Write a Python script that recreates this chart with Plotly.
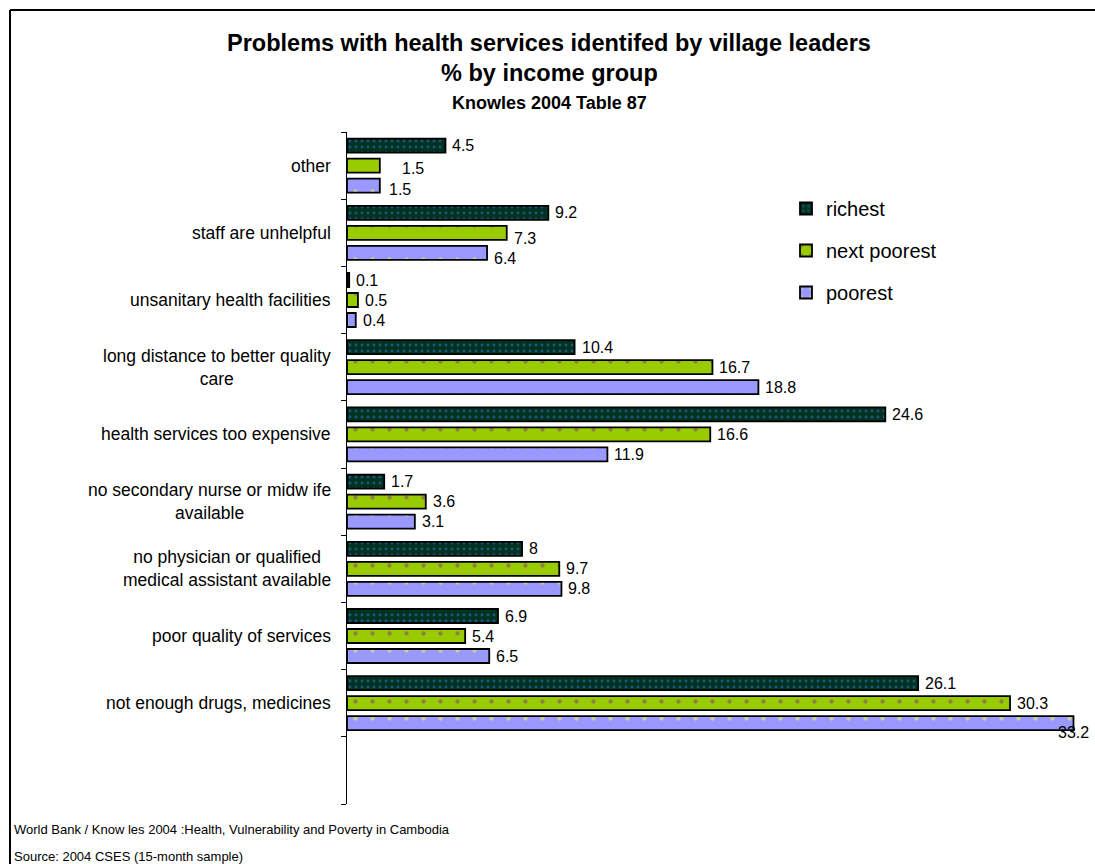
import plotly.graph_objects as go

# Problem categories, top to bottom as listed
categories = [
    "other",
    "staff are unhelpful",
    "unsanitary health facilities",
    "long distance to better quality<br>care",
    "health services too expensive",
    "no secondary nurse or midw ife<br>available",
    "no physician or qualified<br>medical assistant available",
    "poor quality of services",
    "not enough drugs, medicines",
]

# Percent of village leaders citing each problem, by income group
richest = [4.5, 9.2, 0.1, 10.4, 24.6, 1.7, 8, 6.9, 26.1]
next_poorest = [1.5, 7.3, 0.5, 16.7, 16.6, 3.6, 9.7, 5.4, 30.3]
poorest = [1.5, 6.4, 0.4, 18.8, 11.9, 3.1, 9.8, 6.5, 33.2]

series_names = ["richest", "next poorest", "poorest"]

FONT = "Arial, Liberation Sans, sans-serif"
W, H = 1095, 864
ML, MR, MT, MB = 347, 4, 132, 60
XMAX = 34.0
BARGAP = 0.107

n = len(categories)
# numeric slots: one empty slot at the bottom (0), categories from n down to 1
pos = [n - i for i in range(n)]
slot = (1 - BARGAP) / 3.0

plot_w = W - ML - MR
plot_h = H - MT - MB


def px_x(px):
    return (px - ML) / plot_w


def px_y(py):
    return (H - MB - py) / plot_h


styles = {
    "richest": dict(bg="#00331f", fg="#3a78e0", size=6, solidity=0.18),
    "next poorest": dict(bg="#99cc00", fg="#8a2f86", size=17, solidity=0.05),
    "poorest": dict(bg="#9999ff", fg="#ffff33", size=17, solidity=0.05),
}
values = {"richest": richest, "next poorest": next_poorest, "poorest": poorest}
legend_rank = {"richest": 1, "next poorest": 2, "poorest": 3}

fig = go.Figure()
# draw bottom-to-top within each group so "richest" sits on top
for name in ["poorest", "next poorest", "richest"]:
    st = styles[name]
    fig.add_trace(go.Bar(
        name=name,
        x=values[name],
        y=pos,
        orientation="h",
        legendgroup=name,
        legendrank=legend_rank[name],
        marker=dict(
            color=st["bg"],
            line=dict(color="black", width=1.8),
            pattern=dict(shape=".", fgcolor=st["fg"], bgcolor=st["bg"],
                         size=st["size"], solidity=st["solidity"],
                         fillmode="overlay"),
        ),
        hoverinfo="x+y+name",
    ))

annotations = []

# value labels beside each bar; a few are nudged as in the original layout
nudges = {
    ("next poorest", 0): dict(xshift=20, yshift=-3),
    ("poorest", 0): dict(xshift=7, yshift=-4),
    ("next poorest", 1): dict(yshift=-6),
    ("poorest", 1): dict(yshift=-6),
    ("poorest", 8): dict(xanchor="center", xshift=0, yshift=-9),
}
offsets = {"richest": slot, "next poorest": 0.0, "poorest": -slot}
for name in series_names:
    for i, v in enumerate(values[name]):
        a = dict(
            x=v, y=pos[i] + offsets[name], xref="x", yref="y",
            text=f"{v:g}", showarrow=False, xanchor="left", yanchor="middle",
            xshift=5, yshift=0,
            font=dict(family=FONT, size=16, color="black"),
        )
        a.update(nudges.get((name, i), {}))
        annotations.append(a)

# category labels, right-aligned to the axis, lines centred
for i, c in enumerate(categories):
    annotations.append(dict(
        x=0, y=pos[i], xref="paper", yref="y", text=c, showarrow=False,
        xanchor="right", yanchor="middle", align="center", xshift=-14,
        font=dict(family=FONT, size=17.5, color="black"),
    ))

# titles
title_x = px_x(549)
annotations += [
    dict(x=title_x, y=px_y(43), xref="paper", yref="paper", showarrow=False,
         text="<b>Problems with health services identifed by village leaders</b>",
         xanchor="center", yanchor="middle",
         font=dict(family=FONT, size=23.5, color="black")),
    dict(x=title_x, y=px_y(73), xref="paper", yref="paper", showarrow=False,
         text="<b>% by income group</b>", xanchor="center", yanchor="middle",
         font=dict(family=FONT, size=23.5, color="black")),
    dict(x=title_x, y=px_y(103), xref="paper", yref="paper", showarrow=False,
         text="<b>Knowles 2004 Table 87</b>", xanchor="center", yanchor="middle",
         font=dict(family=FONT, size=18, color="black")),
]

# footer notes
annotations += [
    dict(x=px_x(12), y=px_y(829), xref="paper", yref="paper", showarrow=False,
         text="World Bank / Know les 2004 :Health, Vulnerability and Poverty in Cambodia",
         xanchor="left", yanchor="middle",
         font=dict(family=FONT, size=13, color="black")),
    dict(x=px_x(12), y=px_y(856), xref="paper", yref="paper", showarrow=False,
         text="Source: 2004 CSES (15-month sample)",
         xanchor="left", yanchor="middle",
         font=dict(family=FONT, size=13, color="black")),
]

# outer frame (left and top edges)
shapes = [
    dict(type="line", xref="paper", yref="paper",
         x0=px_x(10), x1=px_x(10), y0=px_y(10), y1=px_y(880),
         line=dict(color="black", width=2)),
    dict(type="line", xref="paper", yref="paper",
         x0=px_x(10), x1=px_x(1110), y0=px_y(10), y1=px_y(10),
         line=dict(color="black", width=2)),
]

fig.update_layout(
    width=W, height=H,
    margin=dict(l=ML, r=MR, t=MT, b=MB, pad=0),
    paper_bgcolor="white", plot_bgcolor="white",
    barmode="group", bargap=BARGAP, bargroupgap=0.3,
    font=dict(family=FONT, size=14, color="black"),
    xaxis=dict(range=[0, XMAX], visible=False, fixedrange=True),
    yaxis=dict(
        range=[-0.5, n + 0.5],
        tickmode="array",
        tickvals=[k + 0.5 for k in range(-1, n + 1)],
        showticklabels=False,
        ticks="outside", ticklen=5, tickcolor="black", tickwidth=1,
        showline=True, linecolor="black", linewidth=1,
        showgrid=False, zeroline=False, fixedrange=True,
    ),
    showlegend=True,
    legend=dict(
        x=px_x(786), y=px_y(189), xanchor="left", yanchor="top",
        traceorder="grouped", tracegroupgap=13,
        font=dict(family=FONT, size=20, color="black"),
        bgcolor="rgba(0,0,0,0)", borderwidth=0,
    ),
    annotations=annotations,
    shapes=shapes,
)

fig.write_html("out.html")
